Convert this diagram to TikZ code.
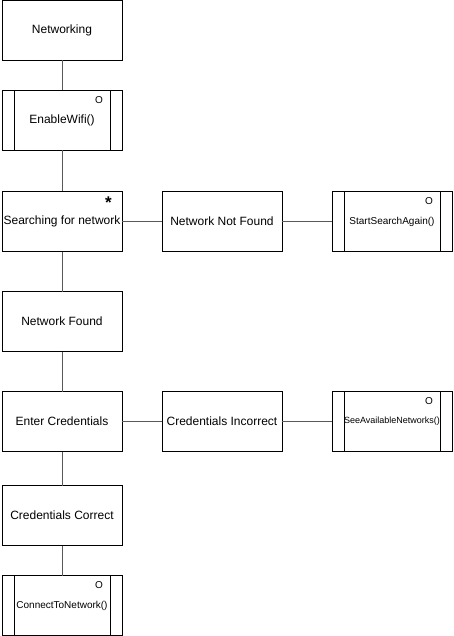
\documentclass[tikz,border=0pt]{standalone}
\usepackage{fontspec}
\setmainfont{Liberation Sans}
\usetikzlibrary{positioning}

\tikzset{
    box/.style = {draw, line width=1pt, minimum width=120pt, minimum height=60pt,
                  inner sep=0pt, outer sep=0pt, font=\fontsize{12}{14}\selectfont},
    proc/.style = {box, font=\fontsize{10}{12}\selectfont,
                   path picture={
                     \draw[line width=1pt] ([xshift=12pt]path picture bounding box.north west)
                        -- ([xshift=12pt]path picture bounding box.south west);
                     \draw[line width=1pt] ([xshift=-12pt]path picture bounding box.north east)
                        -- ([xshift=-12pt]path picture bounding box.south east);}},
    mark o/.style = {inner sep=0pt, font=\fontsize{10}{12}\selectfont},
    link/.style = {draw=black!65, line width=1pt}
}

\begin{document}
\begin{tikzpicture}[x=1pt, y=-1pt]
    \useasboundingbox (0,0) rectangle (453,636);

    % main column
    \node[box] (networking) at (62,30.5) {Networking};
    \node[proc, font=\fontsize{12}{14}\selectfont] (enable) [below=30pt of networking] {EnableWifi()};
    \node[box] (search) [below=41pt of enable] {Searching for network};
    \node[box] (found) [below=40pt of search] {Network Found};
    \node[box] (enter) [below=40pt of found] {Enter Credentials};
    \node[box] (correct) [below=34pt of enter] {Credentials Correct};
    \node[proc] (connect) [below=30pt of correct] {ConnectToNetwork()};

    % side branches
    \node[box] (notfound) [right=40pt of search] {Network Not Found};
    \node[proc] (again) [right=50pt of notfound] {StartSearchAgain()};
    \node[box] (incorrect) [right=40pt of enter] {Credentials Incorrect};
    \node[proc, font=\fontsize{9}{11}\selectfont] (avail) [right=50pt of incorrect] {SeeAvailableNetworks()};

    % markers
    \node[mark o] (o1) [below left=6pt and 19pt of enable.north east] {O};
    \node[mark o] (o2) [below left=6pt and 19pt of again.north east] {O};
    \node[mark o] (o3) [below left=6pt and 19pt of avail.north east] {O};
    \node[mark o] (o4) [below left=6pt and 19pt of connect.north east] {O};
    \node[inner sep=0pt, font=\fontsize{17}{18}\bfseries] (star) [below left=5pt and 10pt of search.north east] {*};

    \draw[link] (networking) -- (enable);
    \draw[link] (enable) -- (search);
    \draw[link] (search) -- (found);
    \draw[link] (found) -- (enter);
    \draw[link] (enter) -- (correct);
    \draw[link] (correct) -- (connect);
    \draw[link] (search) -- (notfound);
    \draw[link] (notfound) -- (again);
    \draw[link] (enter) -- (incorrect);
    \draw[link] (incorrect) -- (avail);
\end{tikzpicture}
\end{document}
